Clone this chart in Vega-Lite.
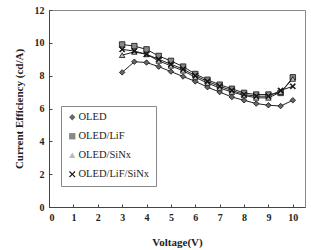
{
  "$schema": "https://vega.github.io/schema/vega-lite/v6.json",
  "width": 256,
  "height": 197,
  "autosize": {"type": "none"},
  "padding": {"left": 49, "top": 10, "right": 6, "bottom": 43},
  "background": "white",
  "config": {
    "view": {"stroke": "#888", "strokeWidth": 1},
    "axis": {
      "labelFont": "Liberation Serif, serif", "labelFontWeight": "bold", "labelFontSize": 10, "labelColor": "#222",
      "titleFont": "Liberation Serif, serif", "titleFontWeight": "bold", "titleFontSize": 11, "titleColor": "#222",
      "grid": false, "domainColor": "#444", "tickColor": "#444", "tickSize": -3
    },
    "legend": {
      "orient": "none", "legendX": 12, "legendY": 96,
      "strokeColor": "#888", "fillColor": "white", "padding": 6,
      "labelFont": "Liberation Serif, serif", "labelFontSize": 10.5, "labelColor": "#222",
      "rowPadding": 8, "symbolSize": 40, "labelOffset": 1, "symbolStrokeWidth": 0.8,
      "symbolStrokeColor": "#111"
    }
  },
  "data": {"values": [
    {"v": 3, "e": 8.2, "s": "OLED"}, {"v": 3.5, "e": 8.85, "s": "OLED"}, {"v": 4, "e": 8.8, "s": "OLED"},
    {"v": 4.5, "e": 8.55, "s": "OLED"}, {"v": 5, "e": 8.25, "s": "OLED"}, {"v": 5.5, "e": 7.95, "s": "OLED"},
    {"v": 6, "e": 7.65, "s": "OLED"}, {"v": 6.5, "e": 7.3, "s": "OLED"}, {"v": 7, "e": 7.0, "s": "OLED"},
    {"v": 7.5, "e": 6.7, "s": "OLED"}, {"v": 8, "e": 6.5, "s": "OLED"}, {"v": 8.5, "e": 6.3, "s": "OLED"},
    {"v": 9, "e": 6.2, "s": "OLED"}, {"v": 9.5, "e": 6.15, "s": "OLED"}, {"v": 10, "e": 6.5, "s": "OLED"},
    {"v": 3, "e": 9.9, "s": "OLED/LiF"}, {"v": 3.5, "e": 9.8, "s": "OLED/LiF"}, {"v": 4, "e": 9.6, "s": "OLED/LiF"},
    {"v": 4.5, "e": 9.2, "s": "OLED/LiF"}, {"v": 5, "e": 8.9, "s": "OLED/LiF"}, {"v": 5.5, "e": 8.55, "s": "OLED/LiF"},
    {"v": 6, "e": 8.1, "s": "OLED/LiF"}, {"v": 6.5, "e": 7.75, "s": "OLED/LiF"}, {"v": 7, "e": 7.45, "s": "OLED/LiF"},
    {"v": 7.5, "e": 7.2, "s": "OLED/LiF"}, {"v": 8, "e": 6.95, "s": "OLED/LiF"}, {"v": 8.5, "e": 6.85, "s": "OLED/LiF"},
    {"v": 9, "e": 6.85, "s": "OLED/LiF"}, {"v": 9.5, "e": 6.95, "s": "OLED/LiF"}, {"v": 10, "e": 7.9, "s": "OLED/LiF"},
    {"v": 3, "e": 9.25, "s": "OLED/SiNx"}, {"v": 3.5, "e": 9.45, "s": "OLED/SiNx"}, {"v": 4, "e": 9.3, "s": "OLED/SiNx"},
    {"v": 4.5, "e": 8.9, "s": "OLED/SiNx"}, {"v": 5, "e": 8.6, "s": "OLED/SiNx"}, {"v": 5.5, "e": 8.3, "s": "OLED/SiNx"},
    {"v": 6, "e": 7.9, "s": "OLED/SiNx"}, {"v": 6.5, "e": 7.55, "s": "OLED/SiNx"}, {"v": 7, "e": 7.25, "s": "OLED/SiNx"},
    {"v": 7.5, "e": 7.0, "s": "OLED/SiNx"}, {"v": 8, "e": 6.8, "s": "OLED/SiNx"}, {"v": 8.5, "e": 6.65, "s": "OLED/SiNx"},
    {"v": 9, "e": 6.65, "s": "OLED/SiNx"}, {"v": 9.5, "e": 7.0, "s": "OLED/SiNx"}, {"v": 10, "e": 7.8, "s": "OLED/SiNx"},
    {"v": 3, "e": 9.6, "s": "OLED/LiF/SiNx"}, {"v": 3.5, "e": 9.5, "s": "OLED/LiF/SiNx"}, {"v": 4, "e": 9.3, "s": "OLED/LiF/SiNx"},
    {"v": 4.5, "e": 9.0, "s": "OLED/LiF/SiNx"}, {"v": 5, "e": 8.7, "s": "OLED/LiF/SiNx"}, {"v": 5.5, "e": 8.4, "s": "OLED/LiF/SiNx"},
    {"v": 6, "e": 8.0, "s": "OLED/LiF/SiNx"}, {"v": 6.5, "e": 7.65, "s": "OLED/LiF/SiNx"}, {"v": 7, "e": 7.35, "s": "OLED/LiF/SiNx"},
    {"v": 7.5, "e": 7.1, "s": "OLED/LiF/SiNx"}, {"v": 8, "e": 6.85, "s": "OLED/LiF/SiNx"}, {"v": 8.5, "e": 6.75, "s": "OLED/LiF/SiNx"},
    {"v": 9, "e": 6.75, "s": "OLED/LiF/SiNx"}, {"v": 9.5, "e": 7.1, "s": "OLED/LiF/SiNx"}, {"v": 10, "e": 7.35, "s": "OLED/LiF/SiNx"}
  ]},
  "encoding": {
    "x": {"field": "v", "type": "quantitative", "scale": {"domain": [0, 10.5], "nice": false},
      "axis": {"values": [0,1,2,3,4,5,6,7,8,9,10], "title": "Voltage(V)", "titlePadding": 14, "labelPadding": 8}},
    "y": {"field": "e", "type": "quantitative", "scale": {"domain": [0, 12], "nice": false},
      "axis": {"values": [0,2,4,6,8,10,12], "title": "Current Efficiency (cd/A)", "titlePadding": 10, "labelPadding": 8}}
  },
  "layer": [
    {
      "mark": {"type": "line", "color": "#222", "strokeWidth": 1},
      "encoding": {"detail": {"field": "s"}}
    },
    {
      "mark": {"type": "point", "filled": true, "stroke": "#111", "strokeWidth": 0.8, "size": 30, "opacity": 1},
      "encoding": {
        "shape": {"field": "s", "type": "nominal",
          "scale": {"domain": ["OLED", "OLED/LiF", "OLED/SiNx", "OLED/LiF/SiNx"],
            "range": ["diamond", "square", "triangle-up", "M-1,-0.75L-0.75,-1L0,-0.25L0.75,-1L1,-0.75L0.25,0L1,0.75L0.75,1L0,0.25L-0.75,1L-1,0.75L-0.25,0Z"]},
          "legend": {"title": null}},
        "fill": {"field": "s", "type": "nominal",
          "scale": {"domain": ["OLED", "OLED/LiF", "OLED/SiNx", "OLED/LiF/SiNx"],
            "range": ["#666", "#888", "#bbb", "#111"]},
          "legend": {"title": null}}
      }
    }
  ]
}
